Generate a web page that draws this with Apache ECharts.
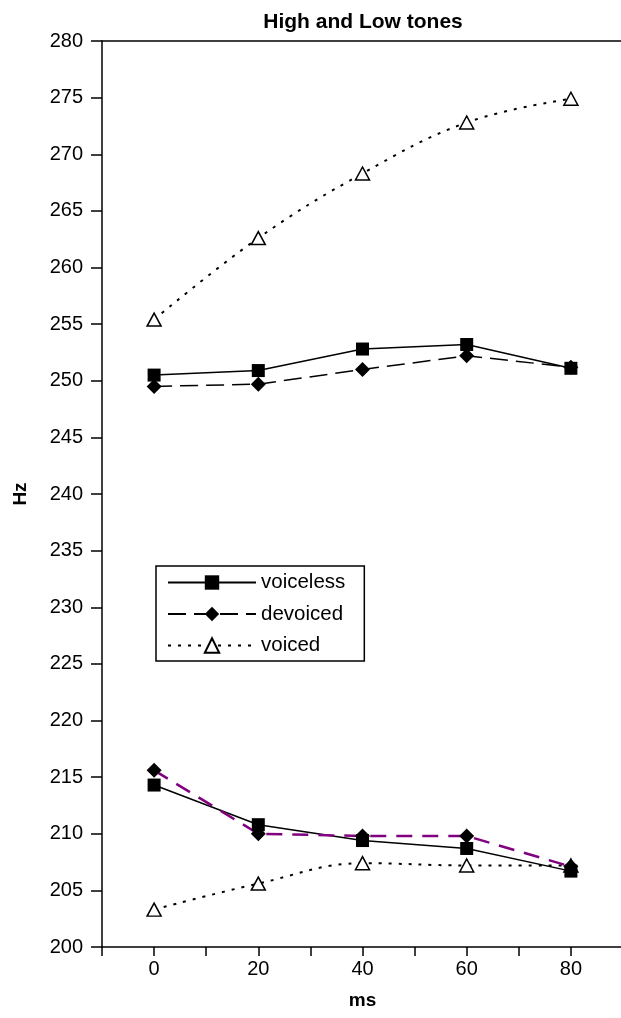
<!DOCTYPE html>
<html>
<head>
<meta charset="utf-8">
<title>High and Low tones</title>
<script src="https://cdn.jsdelivr.net/npm/echarts@6/dist/echarts.min.js"></script>
<style>
  html, body { margin: 0; padding: 0; background: #fff; }
  #chart { width: 621px; height: 1018px; }
</style>
</head>
<body>
<div id="chart"></div>
<script>
// x categories (ms)
const msValues = [0, 20, 40, 60, 80];

// high tone (Hz)
const voicelessHigh = [250.5, 250.9, 252.8, 253.2, 251.1];
const devoicedHigh = [249.5, 249.7, 251.0, 252.2, 251.2];
const voicedHigh = [255.4, 262.6, 268.3, 272.8, 274.9];

// low tone (Hz)
const voicelessLow = [214.3, 210.8, 209.4, 208.7, 206.7];
const devoicedLow = [215.6, 210.0, 209.8, 209.8, 207.1];
const voicedLow = [203.3, 205.6, 207.4, 207.2, 207.2];

const font = 'Liberation Sans, Arial, sans-serif';

// pair x values with y values
const pairs = (ys) => msValues.map((x, i) => [x, ys[i]]);

// series styles
const voicelessStyle = {
  symbol: 'rect',
  symbolSize: 13,
  lineStyle: { color: '#000', width: 1.5, type: 'solid' },
  itemStyle: { color: '#000' }
};
const devoicedStyle = {
  symbol: 'diamond',
  symbolSize: 15,
  lineStyle: { color: '#000', width: 1.5, type: [18, 8] },
  itemStyle: { color: '#000' }
};
const voicedStyle = {
  symbol: 'triangle',
  symbolSize: [14, 13],
  smooth: 0.4,
  lineStyle: { color: '#000', width: 2, type: [3, 7] },
  itemStyle: { color: '#fff', borderColor: '#000', borderWidth: 1.5 }
};

const chart = echarts.init(document.getElementById('chart'));

const option = {
  animation: false,
  backgroundColor: '#fff',
  title: {
    text: 'High and Low tones',
    left: 358,
    top: 7,
    textAlign: 'center',
    textStyle: { fontFamily: font, fontSize: 21, fontWeight: 'bold', color: '#000' }
  },
  grid: {
    left: 102,
    top: 41,
    right: -2,
    bottom: 71,
    outerBoundsMode: 'none',
    containLabel: false
  },
  legend: {
    orient: 'vertical',
    left: 156,
    top: 566,
    itemWidth: 88,
    itemHeight: 18,
    itemGap: 10.5,
    padding: [6, 19, 5, 11],
    borderColor: '#000',
    borderWidth: 1.5,
    data: ['voiceless', 'devoiced', 'voiced'],
    textStyle: { fontFamily: font, fontSize: 20.5, color: '#000' }
  },
  xAxis: [
    {
      type: 'value',
      min: -10,
      max: 90,
      interval: 10,
      name: 'ms',
      nameLocation: 'middle',
      nameGap: 44,
      nameTextStyle: { fontFamily: font, fontSize: 19, fontWeight: 'bold', color: '#000' },
      axisLine: { onZero: false, lineStyle: { color: '#000', width: 1.5 } },
      axisTick: { length: 9, lineStyle: { color: '#000', width: 1.5 } },
      axisLabel: {
        fontFamily: font,
        fontSize: 20,
        color: '#000',
        margin: 12,
        formatter: (v) => (v >= 0 && v % 20 === 0 ? String(v) : '')
      },
      splitLine: { show: false }
    },
    {
      // top border of the plot area
      type: 'value',
      position: 'top',
      min: -10,
      max: 90,
      interval: 10,
      axisLine: { show: true, onZero: false, lineStyle: { color: '#000', width: 1.5 } },
      axisTick: { show: false },
      axisLabel: { show: false },
      splitLine: { show: false }
    }
  ],
  yAxis: {
    type: 'value',
    min: 200,
    max: 280,
    interval: 5,
    name: 'Hz',
    nameLocation: 'middle',
    nameRotate: 90,
    nameGap: 72,
    nameTextStyle: { fontFamily: font, fontSize: 19, fontWeight: 'bold', color: '#000' },
    axisLine: { show: true, onZero: false, lineStyle: { color: '#000', width: 1.5 } },
    axisTick: { show: true, length: 11, lineStyle: { color: '#000', width: 1.5 } },
    axisLabel: { fontFamily: font, fontSize: 20, color: '#000', margin: 19 },
    splitLine: { show: false }
  },
  series: [
    { name: 'voiced', type: 'line', data: pairs(voicedHigh), ...voicedStyle },
    { name: 'voiced', type: 'line', data: pairs(voicedLow), ...voicedStyle },
    { name: 'devoiced', type: 'line', data: pairs(devoicedHigh), ...devoicedStyle },
    { name: 'voiceless', type: 'line', data: pairs(voicelessHigh), ...voicelessStyle },
    { name: 'voiceless', type: 'line', data: pairs(voicelessLow), ...voicelessStyle },
    {
      name: 'devoiced',
      type: 'line',
      data: pairs(devoicedLow),
      ...devoicedStyle,
      lineStyle: { color: '#800080', width: 2.5, type: [16, 10] }
    }
  ]
};

chart.setOption(option);
</script>
</body>
</html>
